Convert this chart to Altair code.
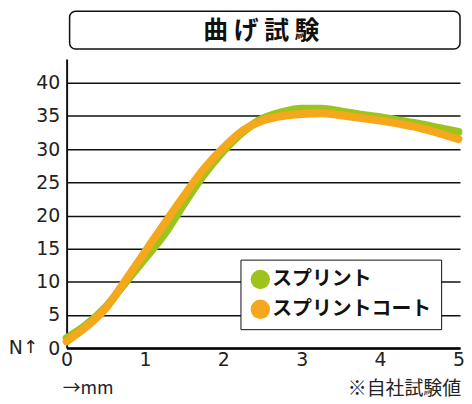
import altair as alt
import pandas as pd

x_mm = [0, 0.25, 0.5, 0.75, 1.0, 1.25, 1.5, 1.75, 2.0, 2.25, 2.5, 2.75, 3.0, 3.25, 3.5, 3.75, 4.0, 4.25, 4.5, 4.75, 5.0]
splint = [1.5, 3.5, 6.2, 9.9, 13.5, 17.2, 21.8, 26.1, 29.7, 32.6, 34.6, 35.6, 36.1, 36.1, 35.7, 35.2, 34.8, 34.3, 33.8, 33.2, 32.6]
splint_coat = [1.0, 3.2, 6.0, 10.2, 14.5, 18.8, 23.0, 27.0, 30.2, 32.8, 34.3, 35.0, 35.3, 35.4, 35.1, 34.7, 34.3, 33.8, 33.2, 32.4, 31.5]
series_names = ["スプリント", "スプリントコート"]
series_colors = ["#9CC41D", "#F5A81C"]
title_text = "曲 げ 試 験"
y_ticks = [0, 5, 10, 15, 20, 25, 30, 35, 40]
x_ticks = [0, 1, 2, 3, 4, 5]

rows = []
for name, vals in zip(series_names, [splint, splint_coat]):
    for xv, yv in zip(x_mm, vals):
        rows.append({"x": xv, "y": yv, "series": name})
df = pd.DataFrame(rows)

W, H = 396, 291
FONT = "Noto Sans CJK JP"

xs = alt.Scale(domain=[0, 5.02], nice=False)
ys = alt.Scale(domain=[0, 43.6], nice=False)
cs = alt.Scale(domain=series_names, range=series_colors)

x_axis = alt.Axis(values=x_ticks, format="d", title=None, grid=False, ticks=False,
                  domainColor="black", domainWidth=2.5, labelPadding=3,
                  labelOverlap=False, labelFlush=False, labelBound=False,
                  labelFont="DejaVu Sans", labelFontSize=19, labelColor="#222")
y_axis = alt.Axis(values=y_ticks, format="d", title=None, grid=True, gridColor="#111",
                  gridWidth=1.5, ticks=False, domainColor="#111", domainWidth=2,
                  labelOverlap=False, labelFlush=False, labelBound=False,
                  labelPadding=7, labelFont="DejaVu Sans", labelFontSize=19,
                  labelColor="#222")

base = alt.Chart(df)

pts = base.mark_circle(opacity=0, size=10).encode(
    x=alt.X("x:Q", scale=xs, axis=x_axis),
    y=alt.Y("y:Q", scale=ys, axis=y_axis),
    fill=alt.Fill("series:N", scale=cs, sort=series_names,
                  legend=alt.Legend(title=None, orient="none", legendX=175, legendY=202,
                                    symbolType="circle", symbolSize=380, symbolOpacity=1,
                                    symbolStrokeWidth=0, labelFont=FONT, labelFontSize=20,
                                    labelFontWeight="bold", labelColor="#111", labelOffset=2,
                                    rowPadding=10, padding=10, strokeColor="#111",
                                    fillColor="white", labelLimit=300)),
)

lines = base.mark_line(strokeWidth=8, strokeCap="round", strokeJoin="round", interpolate="monotone").encode(
    x=alt.X("x:Q", scale=xs, axis=x_axis),
    y=alt.Y("y:Q", scale=ys, axis=y_axis),
    stroke=alt.Stroke("series:N", scale=cs, sort=series_names, legend=None),
    order=alt.Order("x:Q"),
)

one = pd.DataFrame({"t": [title_text]})
box = alt.Chart(one).mark_rect(cornerRadius=6, fill="white", stroke="#111", strokeWidth=1.5).encode(
    x=alt.value(3), x2=alt.value(396), y=alt.value(-48), y2=alt.value(-10))
ttl = alt.Chart(one).mark_text(font=FONT, fontSize=25, fontWeight="bold", color="#111").encode(
    text="t:N", x=alt.value(196), y=alt.value(-28))

nlab = alt.Chart(pd.DataFrame({"t": ["N"]})).mark_text(font="DejaVu Sans", fontSize=19, align="right", color="#222").encode(
    text="t:N", x=alt.value(-44), y=alt.value(291))
arrow = alt.Chart(pd.DataFrame({"t": ["↑"]})).mark_text(font="DejaVu Sans", fontSize=18, align="center", color="#222").encode(
    text="t:N", x=alt.value(-36), y=alt.value(291))
mm = alt.Chart(pd.DataFrame({"t": ["→mm"]})).mark_text(font=FONT, fontSize=18, align="left", color="#222").encode(
    text="t:N", x=alt.value(-4), y=alt.value(332))
note = alt.Chart(pd.DataFrame({"t": ["※自社試験値"]})).mark_text(font=FONT, fontSize=19, align="right", color="#222").encode(
    text="t:N", x=alt.value(397), y=alt.value(332))

chart = alt.layer(pts, lines, box, ttl, nlab, arrow, mm, note).properties(
    width=W, height=H,
    autosize=alt.AutoSizeParams(type="none"),
    padding={"left": 59, "top": 50, "right": 4, "bottom": 50},
).configure_view(stroke=None)

chart.save("out.html", embed_options={"renderer": "svg", "actions": False})
